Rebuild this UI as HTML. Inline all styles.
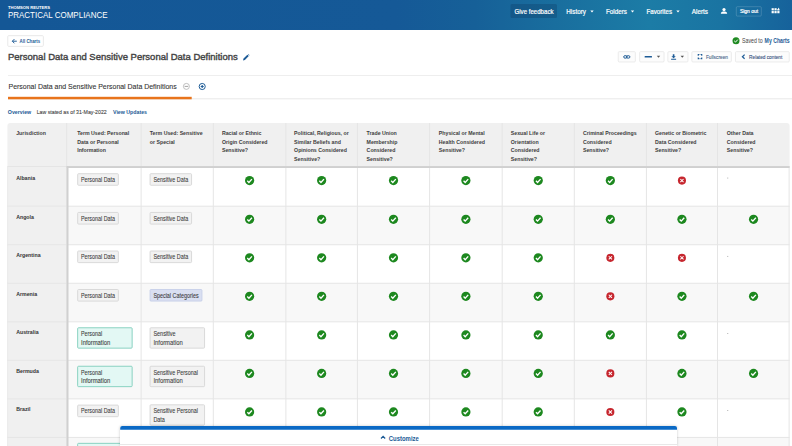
<!DOCTYPE html>
<html><head><meta charset="utf-8"><title>Practical Compliance</title>
<style>
html,body{margin:0;padding:0;background:#fff;}
body{width:792px;height:446px;position:relative;overflow:hidden;font-family:"Liberation Sans", sans-serif;}
.b{position:absolute;display:block;overflow:visible;}
.t{position:absolute;display:inline-block;white-space:nowrap;line-height:10px;transform-origin:0 50%;font-family:"Liberation Sans", sans-serif;}
</style></head><body>
<div class="b" style="left:0.00px;top:0.00px;width:792.00px;height:30.00px;background:linear-gradient(90deg,#145796 0%,#155997 50%,#166098 60%,#196e9e 70%,#1c7ca6 82%,#1a74a2 91%,#16629b 100%);"></div>
<span class="t" id="t0" style="left:7px;top:3px;font-size:3.7px;font-weight:700;color:#fff;transform:translate(0.90px,0.40px) scaleX(1.1227) rotate(.02deg);">THOMSON REUTERS</span>
<span class="t" id="t1" style="left:7px;top:9px;font-size:8.5px;font-weight:400;color:#fff;transform:translate(0.90px,0.90px) scaleX(0.9408) rotate(.02deg);">PRACTICAL COMPLIANCE</span>
<svg class="b" style="left:509px;top:3px" width="49" height="16"><path d="M3.00 1.00H46.50A1.5 1.5 0 0 1 48.00 2.50V13.50A1.5 1.5 0 0 1 46.50 15.00H3.00A1.5 1.5 0 0 1 1.50 13.50V2.50A1.5 1.5 0 0 1 3.00 1.00Z" fill="rgba(10,50,90,.28)"/></svg>
<span class="t" id="t2" style="left:514px;top:6px;font-size:7.3px;font-weight:400;color:#fff;transform:translate(0.50px,0.70px) scaleX(0.8359) rotate(.02deg);-webkit-text-stroke:.2px #fff;">Give feedback</span>
<span class="t" id="t3" style="left:566px;top:6px;font-size:7.3px;font-weight:400;color:#fff;transform:translate(0.30px,0.70px) scaleX(0.8633) rotate(.02deg);-webkit-text-stroke:.2px #fff;">History</span>
<span class="t" id="t4" style="left:606px;top:6px;font-size:7.3px;font-weight:400;color:#fff;transform:translate(0.00px,0.70px) scaleX(0.8585) rotate(.02deg);-webkit-text-stroke:.2px #fff;">Folders</span>
<span class="t" id="t5" style="left:646px;top:6px;font-size:7.3px;font-weight:400;color:#fff;transform:translate(0.50px,0.70px) scaleX(0.8496) rotate(.02deg);-webkit-text-stroke:.2px #fff;">Favorites</span>
<span class="t" id="t6" style="left:691px;top:6px;font-size:7.3px;font-weight:400;color:#fff;transform:translate(0.80px,0.70px) scaleX(0.8683) rotate(.02deg);-webkit-text-stroke:.2px #fff;">Alerts</span>
<svg class="b" style="left:590px;top:10px" width="5" height="4"><g transform="translate(0.30 0.60)"><path d="M0 0H3.4L1.7 2Z" fill="#fff"/></g></svg>
<svg class="b" style="left:630px;top:10px" width="6" height="4"><g transform="translate(0.80 0.60)"><path d="M0 0H3.4L1.7 2Z" fill="#fff"/></g></svg>
<svg class="b" style="left:676px;top:10px" width="5" height="4"><g transform="translate(0.30 0.60)"><path d="M0 0H3.4L1.7 2Z" fill="#fff"/></g></svg>
<svg class="b" style="left:720px;top:8px" width="9" height="7"><g transform="translate(0.90 0.00)"><circle cx="3.1" cy="1.6" r="1.6" fill="#fff"/><path d="M0 5.8V5.2C0 3.9 1.4 3.4 3.1 3.4S6.2 3.9 6.2 5.2V5.8Z" fill="#fff"/></g></svg>
<svg class="b" style="left:734px;top:5px" width="29" height="13"><path d="M3.30 1.70H26.30A1 1 0 0 1 27.30 2.70V10.10A1 1 0 0 1 26.30 11.10H3.30A1 1 0 0 1 2.30 10.10V2.70A1 1 0 0 1 3.30 1.70Z" fill="none" stroke="rgba(255,255,255,.2)" stroke-width="0.8"/></svg>
<span class="t" id="t7" style="left:739px;top:5px;font-size:5.0px;font-weight:400;color:#fff;transform:translate(0.90px,0.90px) scaleX(0.9913) rotate(.02deg);-webkit-text-stroke:.2px #fff;">Sign out</span>
<svg class="b" style="left:771px;top:7px" width="10" height="8"><g transform="translate(0.60 0.30)"><g fill="#fff"><rect x="0" y="0.9" width="2.2" height="2.2"/><rect x="2.85" y="0.9" width="2.2" height="2.2"/><rect x="0" y="3.75" width="2.2" height="2.2"/><rect x="2.85" y="3.75" width="2.2" height="2.2"/><rect x="5.7" y="3.75" width="2.2" height="2.2"/><path d="M5.7 3.1V1.7H6.4V0.2L7.9 1.7V3.1Z"/></g></g></svg>
<svg class="b" style="left:6px;top:34px" width="39" height="14"><path d="M2.75 1.65H36.35A1 1 0 0 1 37.35 2.65V11.35A1 1 0 0 1 36.35 12.35H2.75A1 1 0 0 1 1.75 11.35V2.65A1 1 0 0 1 2.75 1.65Z" fill="#fff" stroke="#e6e6e6" stroke-width="0.9"/></svg>
<svg class="b" style="left:11px;top:38px" width="7" height="7"><g transform="translate(0.60 0.90)"><path d="M5.2 2.3H0.8M2.8 0.2L0.7 2.3L2.8 4.4" stroke="#1d5b96" stroke-width="0.95" fill="none"/></g></svg>
<span class="t" id="t8" style="left:19px;top:36px;font-size:5.6px;font-weight:700;color:#1d5b96;transform:translate(0.60px,0.30px) scaleX(0.7797) rotate(.02deg);">All Charts</span>
<span class="t" id="t9" style="left:8px;top:51px;font-size:9.8px;font-weight:400;color:#444;transform:translate(0.00px,0.85px) scaleX(0.9701) rotate(.02deg);-webkit-text-stroke:.4px #444;">Personal Data and Sensitive Personal Data Definitions</span>
<svg class="b" style="left:243px;top:54px" width="8" height="8"><g transform="translate(0.00 0.00)"><path d="M0 6.5L0.5 4.6L4.4 0.7L5.8 2.1L1.9 6Z M4.9 0.2L5.3 -0.1L6.6 1.2L6.3 1.6Z" fill="#1d5b96"/></g></svg>
<svg class="b" style="left:732px;top:37px" width="9" height="9"><g transform="translate(0.50 0.20)"><circle cx="3.5" cy="3.5" r="3.5" fill="#1f8a22"/><path d="M1.7 3.6L3 4.9L5.3 2.4" stroke="#fff" stroke-width="1" fill="none"/></g></svg>
<span class="t" id="t10" style="left:742px;top:35px;font-size:6.6px;font-weight:400;color:#444;transform:translate(0.00px,0.70px) scaleX(0.7952) rotate(.02deg);">Saved to</span>
<span class="t" id="t11" style="left:764px;top:35px;font-size:6.6px;font-weight:700;color:#1d5b96;transform:translate(0.60px,0.70px) scaleX(0.7808) rotate(.02deg);">My Charts</span>
<svg class="b" style="left:616px;top:50px" width="21" height="14"><path d="M3.25 1.65H18.35A1 1 0 0 1 19.35 2.65V10.95A1 1 0 0 1 18.35 11.95H3.25A1 1 0 0 1 2.25 10.95V2.65A1 1 0 0 1 3.25 1.65Z" fill="#fcfcfc" stroke="#e9e9e9" stroke-width="0.9"/></svg>
<svg class="b" style="left:638px;top:50px" width="28" height="14"><path d="M2.65 1.65H25.05A1 1 0 0 1 26.05 2.65V10.95A1 1 0 0 1 25.05 11.95H2.65A1 1 0 0 1 1.65 10.95V2.65A1 1 0 0 1 2.65 1.65Z" fill="#fcfcfc" stroke="#e9e9e9" stroke-width="0.9"/></svg>
<svg class="b" style="left:666px;top:50px" width="24" height="14"><path d="M2.85 1.65H20.95A1 1 0 0 1 21.95 2.65V10.95A1 1 0 0 1 20.95 11.95H2.85A1 1 0 0 1 1.85 10.95V2.65A1 1 0 0 1 2.85 1.65Z" fill="#fcfcfc" stroke="#e9e9e9" stroke-width="0.9"/></svg>
<svg class="b" style="left:690px;top:50px" width="43" height="14"><path d="M2.85 1.65H40.35A1 1 0 0 1 41.35 2.65V10.95A1 1 0 0 1 40.35 11.95H2.85A1 1 0 0 1 1.85 10.95V2.65A1 1 0 0 1 2.85 1.65Z" fill="#fcfcfc" stroke="#e9e9e9" stroke-width="0.9"/></svg>
<svg class="b" style="left:734px;top:50px" width="57" height="14"><path d="M2.45 1.65H54.25A1 1 0 0 1 55.25 2.65V10.95A1 1 0 0 1 54.25 11.95H2.45A1 1 0 0 1 1.45 10.95V2.65A1 1 0 0 1 2.45 1.65Z" fill="#fcfcfc" stroke="#e9e9e9" stroke-width="0.9"/></svg>
<svg class="b" style="left:623px;top:54px" width="9" height="6"><g transform="translate(0.00 0.80)"><g fill="none" stroke="#1d5b96" stroke-width="1"><rect x="0.7" y="0.9" width="3.4" height="2.4" rx="1.2"/><rect x="3.5" y="0.9" width="3.4" height="2.4" rx="1.2"/></g></g></svg>
<svg class="b" style="left:643px;top:54px" width="10" height="5"><path d="M2.10 1.90H8.50A0.5 0.5 0 0 1 9.00 2.40V3.10A0.5 0.5 0 0 1 8.50 3.60H2.10A0.5 0.5 0 0 1 1.60 3.10V2.40A0.5 0.5 0 0 1 2.10 1.90Z" fill="#1d5b96"/></svg>
<svg class="b" style="left:656px;top:55px" width="6" height="4"><g transform="translate(0.80 0.80)"><path d="M0 0H3.4L1.7 2Z" fill="#555"/></g></svg>
<svg class="b" style="left:670px;top:54px" width="8" height="7"><g transform="translate(0.80 0.20)"><path d="M2 0H3.6V2H5L2.8 4L0.6 2H2Z M0.3 4.5H5.3V5.5H0.3Z" fill="#1d5b96"/></g></svg>
<svg class="b" style="left:680px;top:55px" width="6" height="4"><g transform="translate(0.60 0.80)"><path d="M0 0H3.4L1.7 2Z" fill="#555"/></g></svg>
<svg class="b" style="left:697px;top:54px" width="7" height="7"><g transform="translate(0.70 0.00)"><path d="M0.55 1.8V0.55H1.7M2.9 0.55H4.05V1.8M4.05 3.4V4.65H2.9M1.7 4.65H0.55V3.4" stroke="#1d5b96" stroke-width="1.1" fill="none"/></g></svg>
<span class="t" id="t12" style="left:705px;top:51px;font-size:5.3px;font-weight:400;color:#48648a;transform:translate(0.90px,0.70px) scaleX(0.9043) rotate(.02deg);-webkit-text-stroke:.1px #48648a;">Fullscreen</span>
<svg class="b" style="left:741px;top:54px" width="6" height="7"><g transform="translate(0.70 0.20)"><path d="M2.9 0.4L0.7 2.5L2.9 4.6" stroke="#1d5b96" stroke-width="1.2" fill="none"/></g></svg>
<span class="t" id="t13" style="left:749px;top:51px;font-size:5.3px;font-weight:400;color:#38507e;transform:translate(0.10px,0.50px) scaleX(0.8947) rotate(.02deg);-webkit-text-stroke:.1px #38507e;">Related content</span>
<svg class="b" style="left:7px;top:74px" width="786" height="3"><rect x="1.00" y="1.00" width="784.00" height="1.00" fill="#eeeeee"/></svg>
<svg class="b" style="left:7px;top:97px" width="786" height="4"><rect x="1.00" y="1.30" width="784.00" height="1.00" fill="#e8e8e8"/></svg>
<svg class="b" style="left:7px;top:95px" width="186" height="6"><rect x="1.00" y="1.80" width="183.70" height="2.50" fill="#e8741c"/></svg>
<span class="t" id="t14" style="left:8px;top:82px;font-size:7.8px;font-weight:400;color:#333;transform:translate(0.50px,0.20px) scaleX(0.8922) rotate(.02deg);-webkit-text-stroke:.1px #333;">Personal Data and Sensitive Personal Data Definitions</span>
<svg class="b" style="left:183px;top:83px" width="8" height="8"><g transform="translate(0.00 0.00)"><circle cx="3.4" cy="3.4" r="3" fill="none" stroke="#a6a6a6" stroke-width=".7"/><path d="M1.6 3.4H5.2" stroke="#8c8c8c" stroke-width=".8"/></g></svg>
<svg class="b" style="left:198px;top:82px" width="9" height="10"><g transform="translate(0.60 0.90)"><circle cx="3.6" cy="3.6" r="3.05" fill="none" stroke="#1d5b96" stroke-width="1"/><path d="M2.1 3.6H5.1M3.6 2.1V5.1" stroke="#1d5b96" stroke-width="1.15"/></g></svg>
<span class="t" id="t15" style="left:7px;top:106px;font-size:5.8px;font-weight:700;color:#1d5b96;transform:translate(0.80px,0.80px) scaleX(0.9076) rotate(.02deg);">Overview</span>
<span class="t" id="t16" style="left:36px;top:106px;font-size:5.8px;font-weight:400;color:#444;transform:translate(0.70px,0.80px) scaleX(0.8976) rotate(.02deg);-webkit-text-stroke:.1px #444;">Law stated as of 31-May-2022</span>
<span class="t" id="t17" style="left:113px;top:106px;font-size:5.8px;font-weight:700;color:#1d5b96;transform:translate(0.00px,0.80px) scaleX(0.9044) rotate(.02deg);">View Updates</span>
<svg class="b" style="left:6px;top:122px" width="785" height="46"><path d="M4.40 1.00H780.60A3 3 0 0 1 783.60 4.00V44.50A0 0 0 0 1 783.60 44.50H1.40A0 0 0 0 1 1.40 44.50V4.00A3 3 0 0 1 4.40 1.00Z" fill="#f0f0f0"/></svg>
<svg class="b" style="left:65px;top:165px" width="726" height="43"><rect x="1.70" y="1.50" width="722.90" height="39.70" fill="#fff"/></svg>
<svg class="b" style="left:6px;top:165px" width="62" height="43"><rect x="1.40" y="1.50" width="59.30" height="39.70" fill="#f0f0f0"/></svg>
<svg class="b" style="left:65px;top:205px" width="726" height="41"><rect x="1.70" y="1.20" width="722.90" height="38.55" fill="#f8f8f8"/></svg>
<svg class="b" style="left:6px;top:205px" width="62" height="41"><rect x="1.40" y="1.20" width="59.30" height="38.55" fill="#f0f0f0"/></svg>
<svg class="b" style="left:65px;top:243px" width="726" height="42"><rect x="1.70" y="1.75" width="722.90" height="38.50" fill="#fff"/></svg>
<svg class="b" style="left:6px;top:243px" width="62" height="42"><rect x="1.40" y="1.75" width="59.30" height="38.50" fill="#f0f0f0"/></svg>
<svg class="b" style="left:65px;top:282px" width="726" height="41"><rect x="1.70" y="1.25" width="722.90" height="38.55" fill="#f8f8f8"/></svg>
<svg class="b" style="left:6px;top:282px" width="62" height="41"><rect x="1.40" y="1.25" width="59.30" height="38.55" fill="#f0f0f0"/></svg>
<svg class="b" style="left:65px;top:320px" width="726" height="42"><rect x="1.70" y="1.80" width="722.90" height="38.50" fill="#fff"/></svg>
<svg class="b" style="left:6px;top:320px" width="62" height="42"><rect x="1.40" y="1.80" width="59.30" height="38.50" fill="#f0f0f0"/></svg>
<svg class="b" style="left:65px;top:359px" width="726" height="41"><rect x="1.70" y="1.30" width="722.90" height="38.55" fill="#f8f8f8"/></svg>
<svg class="b" style="left:6px;top:359px" width="62" height="41"><rect x="1.40" y="1.30" width="59.30" height="38.55" fill="#f0f0f0"/></svg>
<svg class="b" style="left:65px;top:397px" width="726" height="42"><rect x="1.70" y="1.85" width="722.90" height="38.55" fill="#fff"/></svg>
<svg class="b" style="left:6px;top:397px" width="62" height="42"><rect x="1.40" y="1.85" width="59.30" height="38.55" fill="#f0f0f0"/></svg>
<svg class="b" style="left:65px;top:436px" width="726" height="12"><rect x="1.70" y="1.40" width="722.90" height="9.60" fill="#f8f8f8"/></svg>
<svg class="b" style="left:6px;top:436px" width="62" height="12"><rect x="1.40" y="1.40" width="59.30" height="9.60" fill="#f0f0f0"/></svg>
<svg class="b" style="left:6px;top:165px" width="785" height="3"><rect x="1.40" y="1.00" width="782.20" height="1.00" fill="#e5e5e5"/></svg>
<svg class="b" style="left:6px;top:204px" width="785" height="4"><rect x="1.40" y="1.70" width="782.20" height="1.00" fill="#e5e5e5"/></svg>
<svg class="b" style="left:6px;top:243px" width="785" height="4"><rect x="1.40" y="1.25" width="782.20" height="1.00" fill="#e5e5e5"/></svg>
<svg class="b" style="left:6px;top:281px" width="785" height="4"><rect x="1.40" y="1.75" width="782.20" height="1.00" fill="#e5e5e5"/></svg>
<svg class="b" style="left:6px;top:320px" width="785" height="4"><rect x="1.40" y="1.30" width="782.20" height="1.00" fill="#e5e5e5"/></svg>
<svg class="b" style="left:6px;top:358px" width="785" height="4"><rect x="1.40" y="1.80" width="782.20" height="1.00" fill="#e5e5e5"/></svg>
<svg class="b" style="left:6px;top:397px" width="785" height="4"><rect x="1.40" y="1.35" width="782.20" height="1.00" fill="#e5e5e5"/></svg>
<svg class="b" style="left:6px;top:435px" width="785" height="4"><rect x="1.40" y="1.90" width="782.20" height="1.00" fill="#e5e5e5"/></svg>
<svg class="b" style="left:65px;top:122px" width="4" height="326"><rect x="1.20" y="1.00" width="1.00" height="324.00" fill="#e5e5e5"/></svg>
<svg class="b" style="left:139px;top:122px" width="4" height="326"><rect x="1.60" y="1.00" width="1.00" height="324.00" fill="#e5e5e5"/></svg>
<svg class="b" style="left:211px;top:122px" width="4" height="326"><rect x="1.80" y="1.00" width="1.00" height="324.00" fill="#e5e5e5"/></svg>
<svg class="b" style="left:284px;top:122px" width="4" height="326"><rect x="1.40" y="1.00" width="1.00" height="324.00" fill="#e5e5e5"/></svg>
<svg class="b" style="left:355px;top:122px" width="4" height="326"><rect x="1.90" y="1.00" width="1.00" height="324.00" fill="#e5e5e5"/></svg>
<svg class="b" style="left:428px;top:122px" width="4" height="326"><rect x="1.10" y="1.00" width="1.00" height="324.00" fill="#e5e5e5"/></svg>
<svg class="b" style="left:500px;top:122px" width="4" height="326"><rect x="1.70" y="1.00" width="1.00" height="324.00" fill="#e5e5e5"/></svg>
<svg class="b" style="left:572px;top:122px" width="4" height="326"><rect x="1.80" y="1.00" width="1.00" height="324.00" fill="#e5e5e5"/></svg>
<svg class="b" style="left:644px;top:122px" width="4" height="326"><rect x="1.90" y="1.00" width="1.00" height="324.00" fill="#e5e5e5"/></svg>
<svg class="b" style="left:716px;top:122px" width="3" height="326"><rect x="1.00" y="1.00" width="1.00" height="324.00" fill="#e5e5e5"/></svg>
<svg class="b" style="left:787px;top:165px" width="4" height="283"><rect x="1.60" y="1.50" width="1.00" height="280.50" fill="#e5e5e5"/></svg>
<svg class="b" style="left:6px;top:165px" width="4" height="283"><rect x="1.40" y="1.50" width="0.70" height="280.50" fill="#e4e4e4"/></svg>
<svg class="b" style="left:65px;top:165px" width="726" height="4"><rect x="1.70" y="1.10" width="722.90" height="1.90" fill="#d0d0d0"/></svg>
<svg class="b" style="left:65px;top:165px" width="5" height="283"><rect x="1.60" y="1.10" width="1.90" height="280.90" fill="#d0d0d0"/></svg>
<span class="t" id="t18" style="left:16px;top:128px;font-size:6.2px;font-weight:700;color:#3d3d3d;transform:translate(0.20px,0.40px) scaleX(0.8495) rotate(.02deg);">Jurisdiction</span>
<span class="t" id="t19" style="left:77px;top:128px;font-size:6.2px;font-weight:700;color:#3d3d3d;transform:translate(0.20px,0.40px) scaleX(0.8464) rotate(.02deg);">Term Used: Personal</span>
<span class="t" id="t20" style="left:77px;top:136px;font-size:6.2px;font-weight:700;color:#3d3d3d;transform:translate(0.20px,0.80px) scaleX(0.8450) rotate(.02deg);">Data or Personal</span>
<span class="t" id="t21" style="left:77px;top:145px;font-size:6.2px;font-weight:700;color:#3d3d3d;transform:translate(0.20px,0.20px) scaleX(0.8450) rotate(.02deg);">Information</span>
<span class="t" id="t22" style="left:149px;top:128px;font-size:6.2px;font-weight:700;color:#3d3d3d;transform:translate(0.80px,0.40px) scaleX(0.8450) rotate(.02deg);">Term Used: Sensitive</span>
<span class="t" id="t23" style="left:149px;top:136px;font-size:6.2px;font-weight:700;color:#3d3d3d;transform:translate(0.80px,0.80px) scaleX(0.8450) rotate(.02deg);">or Special</span>
<span class="t" id="t24" style="left:221px;top:128px;font-size:6.2px;font-weight:700;color:#3d3d3d;transform:translate(0.90px,0.40px) scaleX(0.8450) rotate(.02deg);">Racial or Ethnic</span>
<span class="t" id="t25" style="left:221px;top:136px;font-size:6.2px;font-weight:700;color:#3d3d3d;transform:translate(0.90px,0.80px) scaleX(0.8450) rotate(.02deg);">Origin Considered</span>
<span class="t" id="t26" style="left:221px;top:145px;font-size:6.2px;font-weight:700;color:#3d3d3d;transform:translate(0.90px,0.20px) scaleX(0.8450) rotate(.02deg);">Sensitive?</span>
<span class="t" id="t27" style="left:294px;top:128px;font-size:6.2px;font-weight:700;color:#3d3d3d;transform:translate(0.10px,0.40px) scaleX(0.8450) rotate(.02deg);">Political, Religious, or</span>
<span class="t" id="t28" style="left:294px;top:136px;font-size:6.2px;font-weight:700;color:#3d3d3d;transform:translate(0.10px,0.80px) scaleX(0.8450) rotate(.02deg);">Similar Beliefs and</span>
<span class="t" id="t29" style="left:294px;top:145px;font-size:6.2px;font-weight:700;color:#3d3d3d;transform:translate(0.10px,0.20px) scaleX(0.8450) rotate(.02deg);">Opinions Considered</span>
<span class="t" id="t30" style="left:294px;top:153px;font-size:6.2px;font-weight:700;color:#3d3d3d;transform:translate(0.10px,0.60px) scaleX(0.8450) rotate(.02deg);">Sensitive?</span>
<span class="t" id="t31" style="left:366px;top:128px;font-size:6.2px;font-weight:700;color:#3d3d3d;transform:translate(0.60px,0.40px) scaleX(0.8450) rotate(.02deg);">Trade Union</span>
<span class="t" id="t32" style="left:366px;top:136px;font-size:6.2px;font-weight:700;color:#3d3d3d;transform:translate(0.60px,0.80px) scaleX(0.8450) rotate(.02deg);">Membership</span>
<span class="t" id="t33" style="left:366px;top:145px;font-size:6.2px;font-weight:700;color:#3d3d3d;transform:translate(0.60px,0.20px) scaleX(0.8450) rotate(.02deg);">Considered</span>
<span class="t" id="t34" style="left:366px;top:153px;font-size:6.2px;font-weight:700;color:#3d3d3d;transform:translate(0.60px,0.60px) scaleX(0.8450) rotate(.02deg);">Sensitive?</span>
<span class="t" id="t35" style="left:438px;top:128px;font-size:6.2px;font-weight:700;color:#3d3d3d;transform:translate(0.80px,0.40px) scaleX(0.8450) rotate(.02deg);">Physical or Mental</span>
<span class="t" id="t36" style="left:438px;top:136px;font-size:6.2px;font-weight:700;color:#3d3d3d;transform:translate(0.80px,0.80px) scaleX(0.8450) rotate(.02deg);">Health Considered</span>
<span class="t" id="t37" style="left:438px;top:145px;font-size:6.2px;font-weight:700;color:#3d3d3d;transform:translate(0.80px,0.20px) scaleX(0.8450) rotate(.02deg);">Sensitive?</span>
<span class="t" id="t38" style="left:510px;top:128px;font-size:6.2px;font-weight:700;color:#3d3d3d;transform:translate(0.80px,0.40px) scaleX(0.8450) rotate(.02deg);">Sexual Life or</span>
<span class="t" id="t39" style="left:510px;top:136px;font-size:6.2px;font-weight:700;color:#3d3d3d;transform:translate(0.80px,0.80px) scaleX(0.8450) rotate(.02deg);">Orientation</span>
<span class="t" id="t40" style="left:510px;top:145px;font-size:6.2px;font-weight:700;color:#3d3d3d;transform:translate(0.80px,0.20px) scaleX(0.8450) rotate(.02deg);">Considered</span>
<span class="t" id="t41" style="left:510px;top:153px;font-size:6.2px;font-weight:700;color:#3d3d3d;transform:translate(0.80px,0.60px) scaleX(0.8450) rotate(.02deg);">Sensitive?</span>
<span class="t" id="t42" style="left:582px;top:128px;font-size:6.2px;font-weight:700;color:#3d3d3d;transform:translate(0.90px,0.40px) scaleX(0.8450) rotate(.02deg);">Criminal Proceedings</span>
<span class="t" id="t43" style="left:582px;top:136px;font-size:6.2px;font-weight:700;color:#3d3d3d;transform:translate(0.90px,0.80px) scaleX(0.8450) rotate(.02deg);">Considered</span>
<span class="t" id="t44" style="left:582px;top:145px;font-size:6.2px;font-weight:700;color:#3d3d3d;transform:translate(0.90px,0.20px) scaleX(0.8450) rotate(.02deg);">Sensitive?</span>
<span class="t" id="t45" style="left:655px;top:128px;font-size:6.2px;font-weight:700;color:#3d3d3d;transform:translate(0.00px,0.40px) scaleX(0.8450) rotate(.02deg);">Genetic or Biometric</span>
<span class="t" id="t46" style="left:655px;top:136px;font-size:6.2px;font-weight:700;color:#3d3d3d;transform:translate(0.00px,0.80px) scaleX(0.8450) rotate(.02deg);">Data Considered</span>
<span class="t" id="t47" style="left:655px;top:145px;font-size:6.2px;font-weight:700;color:#3d3d3d;transform:translate(0.00px,0.20px) scaleX(0.8450) rotate(.02deg);">Sensitive?</span>
<span class="t" id="t48" style="left:726px;top:128px;font-size:6.2px;font-weight:700;color:#3d3d3d;transform:translate(0.80px,0.40px) scaleX(0.8450) rotate(.02deg);">Other Data</span>
<span class="t" id="t49" style="left:726px;top:136px;font-size:6.2px;font-weight:700;color:#3d3d3d;transform:translate(0.80px,0.80px) scaleX(0.8450) rotate(.02deg);">Considered</span>
<span class="t" id="t50" style="left:726px;top:145px;font-size:6.2px;font-weight:700;color:#3d3d3d;transform:translate(0.80px,0.20px) scaleX(0.8450) rotate(.02deg);">Sensitive?</span>
<span class="t" id="t51" style="left:16px;top:172px;font-size:6.2px;font-weight:700;color:#333;transform:translate(0.20px,0.80px) scaleX(0.8450) rotate(.02deg);">Albania</span>
<svg class="b" style="left:76px;top:172px" width="44" height="15"><path d="M2.55 1.65H41.45A0.9 0.9 0 0 1 42.35 2.55V12.35A0.9 0.9 0 0 1 41.45 13.25H2.55A0.9 0.9 0 0 1 1.65 12.35V2.55A0.9 0.9 0 0 1 2.55 1.65Z" fill="#f2f2f2" stroke="#d6d6d6" stroke-width="0.9"/></svg><span class="t" id="t52" style="left:81px;top:174px;font-size:6.3px;font-weight:400;color:#383838;transform:translate(0.00px,0.90px) scaleX(0.8520) rotate(.02deg);-webkit-text-stroke:.07px #383838;">Personal Data</span>
<svg class="b" style="left:148px;top:172px" width="45" height="15"><path d="M2.95 1.65H42.65A0.9 0.9 0 0 1 43.55 2.55V12.35A0.9 0.9 0 0 1 42.65 13.25H2.95A0.9 0.9 0 0 1 2.05 12.35V2.55A0.9 0.9 0 0 1 2.95 1.65Z" fill="#f2f2f2" stroke="#d6d6d6" stroke-width="0.9"/></svg><span class="t" id="t53" style="left:153px;top:174px;font-size:6.3px;font-weight:400;color:#383838;transform:translate(0.40px,0.90px) scaleX(0.8569) rotate(.02deg);-webkit-text-stroke:.07px #383838;">Sensitive Data</span>
<svg class="b" style="left:245px;top:176px" width="11" height="11"><g transform="translate(0.00 0.00)"><circle cx="4.6" cy="4.6" r="4.6" fill="#1d881f"/><path d="M2.3 4.8L3.9 6.4L6.9 3.1" stroke="#fff" stroke-width="1.35" fill="none"/></g></svg>
<svg class="b" style="left:317px;top:176px" width="11" height="11"><g transform="translate(0.05 0.00)"><circle cx="4.6" cy="4.6" r="4.6" fill="#1d881f"/><path d="M2.3 4.8L3.9 6.4L6.9 3.1" stroke="#fff" stroke-width="1.35" fill="none"/></g></svg>
<svg class="b" style="left:388px;top:176px" width="12" height="11"><g transform="translate(0.90 0.00)"><circle cx="4.6" cy="4.6" r="4.6" fill="#1d881f"/><path d="M2.3 4.8L3.9 6.4L6.9 3.1" stroke="#fff" stroke-width="1.35" fill="none"/></g></svg>
<svg class="b" style="left:461px;top:176px" width="11" height="11"><g transform="translate(0.30 0.00)"><circle cx="4.6" cy="4.6" r="4.6" fill="#1d881f"/><path d="M2.3 4.8L3.9 6.4L6.9 3.1" stroke="#fff" stroke-width="1.35" fill="none"/></g></svg>
<svg class="b" style="left:533px;top:176px" width="11" height="11"><g transform="translate(0.65 0.00)"><circle cx="4.6" cy="4.6" r="4.6" fill="#1d881f"/><path d="M2.3 4.8L3.9 6.4L6.9 3.1" stroke="#fff" stroke-width="1.35" fill="none"/></g></svg>
<svg class="b" style="left:605px;top:176px" width="11" height="11"><g transform="translate(0.75 0.00)"><circle cx="4.6" cy="4.6" r="4.6" fill="#1d881f"/><path d="M2.3 4.8L3.9 6.4L6.9 3.1" stroke="#fff" stroke-width="1.35" fill="none"/></g></svg>
<svg class="b" style="left:677px;top:176px" width="11" height="10"><g transform="translate(0.85 0.50)"><circle cx="4.1" cy="4.1" r="4.05" fill="#c6262e"/><path d="M2.5 2.5L5.7 5.7M5.7 2.5L2.5 5.7" stroke="#fff" stroke-width="1.05" fill="none"/></g></svg>
<svg class="b" style="left:726px;top:176px" width="4" height="4"><rect x="1.00" y="1.70" width="1.30" height="0.70" fill="#aaa"/></svg>
<span class="t" id="t54" style="left:16px;top:211px;font-size:6.2px;font-weight:700;color:#333;transform:translate(0.20px,0.50px) scaleX(0.8450) rotate(.02deg);">Angola</span>
<svg class="b" style="left:76px;top:211px" width="44" height="15"><path d="M2.55 1.45H41.45A0.9 0.9 0 0 1 42.35 2.35V12.15A0.9 0.9 0 0 1 41.45 13.05H2.55A0.9 0.9 0 0 1 1.65 12.15V2.35A0.9 0.9 0 0 1 2.55 1.45Z" fill="#f2f2f2" stroke="#d6d6d6" stroke-width="0.9"/></svg><span class="t" id="t55" style="left:81px;top:213px;font-size:6.3px;font-weight:400;color:#383838;transform:translate(0.00px,0.70px) scaleX(0.8520) rotate(.02deg);-webkit-text-stroke:.07px #383838;">Personal Data</span>
<svg class="b" style="left:148px;top:211px" width="45" height="15"><path d="M2.95 1.45H42.65A0.9 0.9 0 0 1 43.55 2.35V12.15A0.9 0.9 0 0 1 42.65 13.05H2.95A0.9 0.9 0 0 1 2.05 12.15V2.35A0.9 0.9 0 0 1 2.95 1.45Z" fill="#f2f2f2" stroke="#d6d6d6" stroke-width="0.9"/></svg><span class="t" id="t56" style="left:153px;top:213px;font-size:6.3px;font-weight:400;color:#383838;transform:translate(0.40px,0.70px) scaleX(0.8569) rotate(.02deg);-webkit-text-stroke:.07px #383838;">Sensitive Data</span>
<svg class="b" style="left:245px;top:214px" width="11" height="11"><g transform="translate(0.00 0.70)"><circle cx="4.6" cy="4.6" r="4.6" fill="#1d881f"/><path d="M2.3 4.8L3.9 6.4L6.9 3.1" stroke="#fff" stroke-width="1.35" fill="none"/></g></svg>
<svg class="b" style="left:317px;top:214px" width="11" height="11"><g transform="translate(0.05 0.70)"><circle cx="4.6" cy="4.6" r="4.6" fill="#1d881f"/><path d="M2.3 4.8L3.9 6.4L6.9 3.1" stroke="#fff" stroke-width="1.35" fill="none"/></g></svg>
<svg class="b" style="left:388px;top:214px" width="12" height="11"><g transform="translate(0.90 0.70)"><circle cx="4.6" cy="4.6" r="4.6" fill="#1d881f"/><path d="M2.3 4.8L3.9 6.4L6.9 3.1" stroke="#fff" stroke-width="1.35" fill="none"/></g></svg>
<svg class="b" style="left:461px;top:214px" width="11" height="11"><g transform="translate(0.30 0.70)"><circle cx="4.6" cy="4.6" r="4.6" fill="#1d881f"/><path d="M2.3 4.8L3.9 6.4L6.9 3.1" stroke="#fff" stroke-width="1.35" fill="none"/></g></svg>
<svg class="b" style="left:533px;top:214px" width="11" height="11"><g transform="translate(0.65 0.70)"><circle cx="4.6" cy="4.6" r="4.6" fill="#1d881f"/><path d="M2.3 4.8L3.9 6.4L6.9 3.1" stroke="#fff" stroke-width="1.35" fill="none"/></g></svg>
<svg class="b" style="left:605px;top:214px" width="11" height="11"><g transform="translate(0.75 0.70)"><circle cx="4.6" cy="4.6" r="4.6" fill="#1d881f"/><path d="M2.3 4.8L3.9 6.4L6.9 3.1" stroke="#fff" stroke-width="1.35" fill="none"/></g></svg>
<svg class="b" style="left:677px;top:214px" width="11" height="11"><g transform="translate(0.35 0.70)"><circle cx="4.6" cy="4.6" r="4.6" fill="#1d881f"/><path d="M2.3 4.8L3.9 6.4L6.9 3.1" stroke="#fff" stroke-width="1.35" fill="none"/></g></svg>
<svg class="b" style="left:748px;top:214px" width="12" height="11"><g transform="translate(0.95 0.70)"><circle cx="4.6" cy="4.6" r="4.6" fill="#1d881f"/><path d="M2.3 4.8L3.9 6.4L6.9 3.1" stroke="#fff" stroke-width="1.35" fill="none"/></g></svg>
<span class="t" id="t57" style="left:16px;top:250px;font-size:6.2px;font-weight:700;color:#333;transform:translate(0.20px,0.05px) scaleX(0.8450) rotate(.02deg);">Argentina</span>
<svg class="b" style="left:76px;top:249px" width="44" height="16"><path d="M2.55 2.00H41.45A0.9 0.9 0 0 1 42.35 2.90V12.70A0.9 0.9 0 0 1 41.45 13.60H2.55A0.9 0.9 0 0 1 1.65 12.70V2.90A0.9 0.9 0 0 1 2.55 2.00Z" fill="#f2f2f2" stroke="#d6d6d6" stroke-width="0.9"/></svg><span class="t" id="t58" style="left:81px;top:252px;font-size:6.3px;font-weight:400;color:#383838;transform:translate(0.00px,0.25px) scaleX(0.8520) rotate(.02deg);-webkit-text-stroke:.07px #383838;">Personal Data</span>
<svg class="b" style="left:148px;top:249px" width="45" height="16"><path d="M2.95 2.00H42.65A0.9 0.9 0 0 1 43.55 2.90V12.70A0.9 0.9 0 0 1 42.65 13.60H2.95A0.9 0.9 0 0 1 2.05 12.70V2.90A0.9 0.9 0 0 1 2.95 2.00Z" fill="#f2f2f2" stroke="#d6d6d6" stroke-width="0.9"/></svg><span class="t" id="t59" style="left:153px;top:252px;font-size:6.3px;font-weight:400;color:#383838;transform:translate(0.40px,0.25px) scaleX(0.8569) rotate(.02deg);-webkit-text-stroke:.07px #383838;">Sensitive Data</span>
<svg class="b" style="left:245px;top:253px" width="11" height="11"><g transform="translate(0.00 0.25)"><circle cx="4.6" cy="4.6" r="4.6" fill="#1d881f"/><path d="M2.3 4.8L3.9 6.4L6.9 3.1" stroke="#fff" stroke-width="1.35" fill="none"/></g></svg>
<svg class="b" style="left:317px;top:253px" width="11" height="11"><g transform="translate(0.05 0.25)"><circle cx="4.6" cy="4.6" r="4.6" fill="#1d881f"/><path d="M2.3 4.8L3.9 6.4L6.9 3.1" stroke="#fff" stroke-width="1.35" fill="none"/></g></svg>
<svg class="b" style="left:388px;top:253px" width="12" height="11"><g transform="translate(0.90 0.25)"><circle cx="4.6" cy="4.6" r="4.6" fill="#1d881f"/><path d="M2.3 4.8L3.9 6.4L6.9 3.1" stroke="#fff" stroke-width="1.35" fill="none"/></g></svg>
<svg class="b" style="left:461px;top:253px" width="11" height="11"><g transform="translate(0.30 0.25)"><circle cx="4.6" cy="4.6" r="4.6" fill="#1d881f"/><path d="M2.3 4.8L3.9 6.4L6.9 3.1" stroke="#fff" stroke-width="1.35" fill="none"/></g></svg>
<svg class="b" style="left:533px;top:253px" width="11" height="11"><g transform="translate(0.65 0.25)"><circle cx="4.6" cy="4.6" r="4.6" fill="#1d881f"/><path d="M2.3 4.8L3.9 6.4L6.9 3.1" stroke="#fff" stroke-width="1.35" fill="none"/></g></svg>
<svg class="b" style="left:606px;top:253px" width="10" height="10"><g transform="translate(0.25 0.75)"><circle cx="4.1" cy="4.1" r="4.05" fill="#c6262e"/><path d="M2.5 2.5L5.7 5.7M5.7 2.5L2.5 5.7" stroke="#fff" stroke-width="1.05" fill="none"/></g></svg>
<svg class="b" style="left:677px;top:253px" width="11" height="10"><g transform="translate(0.85 0.75)"><circle cx="4.1" cy="4.1" r="4.05" fill="#c6262e"/><path d="M2.5 2.5L5.7 5.7M5.7 2.5L2.5 5.7" stroke="#fff" stroke-width="1.05" fill="none"/></g></svg>
<svg class="b" style="left:726px;top:254px" width="4" height="4"><rect x="1.00" y="1.95" width="1.30" height="0.70" fill="#aaa"/></svg>
<span class="t" id="t60" style="left:16px;top:288px;font-size:6.2px;font-weight:700;color:#333;transform:translate(0.20px,0.55px) scaleX(0.8450) rotate(.02deg);">Armenia</span>
<svg class="b" style="left:76px;top:288px" width="44" height="15"><path d="M2.55 1.50H41.45A0.9 0.9 0 0 1 42.35 2.40V12.20A0.9 0.9 0 0 1 41.45 13.10H2.55A0.9 0.9 0 0 1 1.65 12.20V2.40A0.9 0.9 0 0 1 2.55 1.50Z" fill="#f2f2f2" stroke="#d6d6d6" stroke-width="0.9"/></svg><span class="t" id="t61" style="left:81px;top:290px;font-size:6.3px;font-weight:400;color:#383838;transform:translate(0.00px,0.75px) scaleX(0.8520) rotate(.02deg);-webkit-text-stroke:.07px #383838;">Personal Data</span>
<svg class="b" style="left:148px;top:288px" width="56" height="15"><path d="M2.95 1.50H53.05A0.9 0.9 0 0 1 53.95 2.40V12.20A0.9 0.9 0 0 1 53.05 13.10H2.95A0.9 0.9 0 0 1 2.05 12.20V2.40A0.9 0.9 0 0 1 2.95 1.50Z" fill="#d9dff1" stroke="#c6cfe9" stroke-width="0.9"/></svg><span class="t" id="t62" style="left:153px;top:290px;font-size:6.3px;font-weight:400;color:#383838;transform:translate(0.40px,0.75px) scaleX(0.8551) rotate(.02deg);-webkit-text-stroke:.07px #383838;">Special Categories</span>
<svg class="b" style="left:245px;top:291px" width="11" height="11"><g transform="translate(0.00 0.75)"><circle cx="4.6" cy="4.6" r="4.6" fill="#1d881f"/><path d="M2.3 4.8L3.9 6.4L6.9 3.1" stroke="#fff" stroke-width="1.35" fill="none"/></g></svg>
<svg class="b" style="left:317px;top:291px" width="11" height="11"><g transform="translate(0.05 0.75)"><circle cx="4.6" cy="4.6" r="4.6" fill="#1d881f"/><path d="M2.3 4.8L3.9 6.4L6.9 3.1" stroke="#fff" stroke-width="1.35" fill="none"/></g></svg>
<svg class="b" style="left:388px;top:291px" width="12" height="11"><g transform="translate(0.90 0.75)"><circle cx="4.6" cy="4.6" r="4.6" fill="#1d881f"/><path d="M2.3 4.8L3.9 6.4L6.9 3.1" stroke="#fff" stroke-width="1.35" fill="none"/></g></svg>
<svg class="b" style="left:461px;top:291px" width="11" height="11"><g transform="translate(0.30 0.75)"><circle cx="4.6" cy="4.6" r="4.6" fill="#1d881f"/><path d="M2.3 4.8L3.9 6.4L6.9 3.1" stroke="#fff" stroke-width="1.35" fill="none"/></g></svg>
<svg class="b" style="left:533px;top:291px" width="11" height="11"><g transform="translate(0.65 0.75)"><circle cx="4.6" cy="4.6" r="4.6" fill="#1d881f"/><path d="M2.3 4.8L3.9 6.4L6.9 3.1" stroke="#fff" stroke-width="1.35" fill="none"/></g></svg>
<svg class="b" style="left:606px;top:292px" width="10" height="10"><g transform="translate(0.25 0.25)"><circle cx="4.1" cy="4.1" r="4.05" fill="#c6262e"/><path d="M2.5 2.5L5.7 5.7M5.7 2.5L2.5 5.7" stroke="#fff" stroke-width="1.05" fill="none"/></g></svg>
<svg class="b" style="left:677px;top:291px" width="11" height="11"><g transform="translate(0.35 0.75)"><circle cx="4.6" cy="4.6" r="4.6" fill="#1d881f"/><path d="M2.3 4.8L3.9 6.4L6.9 3.1" stroke="#fff" stroke-width="1.35" fill="none"/></g></svg>
<svg class="b" style="left:748px;top:291px" width="12" height="11"><g transform="translate(0.95 0.75)"><circle cx="4.6" cy="4.6" r="4.6" fill="#1d881f"/><path d="M2.3 4.8L3.9 6.4L6.9 3.1" stroke="#fff" stroke-width="1.35" fill="none"/></g></svg>
<span class="t" id="t63" style="left:16px;top:327px;font-size:6.2px;font-weight:700;color:#333;transform:translate(0.20px,0.10px) scaleX(0.8450) rotate(.02deg);">Australia</span>
<svg class="b" style="left:76px;top:326px" width="58" height="24"><path d="M2.55 1.75H55.25A0.9 0.9 0 0 1 56.15 2.65V21.25A0.9 0.9 0 0 1 55.25 22.15H2.55A0.9 0.9 0 0 1 1.65 21.25V2.65A0.9 0.9 0 0 1 2.55 1.75Z" fill="#e3f8f4" stroke="#7fcdbb" stroke-width="0.9"/></svg><span class="t" id="t64" style="left:81px;top:329px;font-size:6.3px;font-weight:400;color:#383838;transform:translate(0.00px,0.10px) scaleX(0.8488) rotate(.02deg);-webkit-text-stroke:.07px #383838;">Personal</span><span class="t" id="t65" style="left:81px;top:337px;font-size:6.3px;font-weight:400;color:#383838;transform:translate(0.00px,0.75px) scaleX(0.9302) rotate(.02deg);-webkit-text-stroke:.07px #383838;">Information</span>
<svg class="b" style="left:148px;top:326px" width="58" height="24"><path d="M2.95 1.75H55.65A0.9 0.9 0 0 1 56.55 2.65V21.25A0.9 0.9 0 0 1 55.65 22.15H2.95A0.9 0.9 0 0 1 2.05 21.25V2.65A0.9 0.9 0 0 1 2.95 1.75Z" fill="#f2f2f2" stroke="#d6d6d6" stroke-width="0.9"/></svg><span class="t" id="t66" style="left:153px;top:329px;font-size:6.3px;font-weight:400;color:#383838;transform:translate(0.40px,0.10px) scaleX(0.8685) rotate(.02deg);-webkit-text-stroke:.07px #383838;">Sensitive</span><span class="t" id="t67" style="left:153px;top:337px;font-size:6.3px;font-weight:400;color:#383838;transform:translate(0.40px,0.75px) scaleX(0.9302) rotate(.02deg);-webkit-text-stroke:.07px #383838;">Information</span>
<svg class="b" style="left:245px;top:330px" width="11" height="11"><g transform="translate(0.00 0.30)"><circle cx="4.6" cy="4.6" r="4.6" fill="#1d881f"/><path d="M2.3 4.8L3.9 6.4L6.9 3.1" stroke="#fff" stroke-width="1.35" fill="none"/></g></svg>
<svg class="b" style="left:317px;top:330px" width="11" height="11"><g transform="translate(0.05 0.30)"><circle cx="4.6" cy="4.6" r="4.6" fill="#1d881f"/><path d="M2.3 4.8L3.9 6.4L6.9 3.1" stroke="#fff" stroke-width="1.35" fill="none"/></g></svg>
<svg class="b" style="left:388px;top:330px" width="12" height="11"><g transform="translate(0.90 0.30)"><circle cx="4.6" cy="4.6" r="4.6" fill="#1d881f"/><path d="M2.3 4.8L3.9 6.4L6.9 3.1" stroke="#fff" stroke-width="1.35" fill="none"/></g></svg>
<svg class="b" style="left:461px;top:330px" width="11" height="11"><g transform="translate(0.30 0.30)"><circle cx="4.6" cy="4.6" r="4.6" fill="#1d881f"/><path d="M2.3 4.8L3.9 6.4L6.9 3.1" stroke="#fff" stroke-width="1.35" fill="none"/></g></svg>
<svg class="b" style="left:533px;top:330px" width="11" height="11"><g transform="translate(0.65 0.30)"><circle cx="4.6" cy="4.6" r="4.6" fill="#1d881f"/><path d="M2.3 4.8L3.9 6.4L6.9 3.1" stroke="#fff" stroke-width="1.35" fill="none"/></g></svg>
<svg class="b" style="left:605px;top:330px" width="11" height="11"><g transform="translate(0.75 0.30)"><circle cx="4.6" cy="4.6" r="4.6" fill="#1d881f"/><path d="M2.3 4.8L3.9 6.4L6.9 3.1" stroke="#fff" stroke-width="1.35" fill="none"/></g></svg>
<svg class="b" style="left:677px;top:330px" width="11" height="11"><g transform="translate(0.35 0.30)"><circle cx="4.6" cy="4.6" r="4.6" fill="#1d881f"/><path d="M2.3 4.8L3.9 6.4L6.9 3.1" stroke="#fff" stroke-width="1.35" fill="none"/></g></svg>
<svg class="b" style="left:726px;top:332px" width="4" height="3"><rect x="1.00" y="1.00" width="1.30" height="0.70" fill="#aaa"/></svg>
<span class="t" id="t68" style="left:16px;top:365px;font-size:6.2px;font-weight:700;color:#333;transform:translate(0.20px,0.60px) scaleX(0.8450) rotate(.02deg);">Bermuda</span>
<svg class="b" style="left:76px;top:364px" width="58" height="25"><path d="M2.55 2.25H55.25A0.9 0.9 0 0 1 56.15 3.15V21.75A0.9 0.9 0 0 1 55.25 22.65H2.55A0.9 0.9 0 0 1 1.65 21.75V3.15A0.9 0.9 0 0 1 2.55 2.25Z" fill="#e3f8f4" stroke="#7fcdbb" stroke-width="0.9"/></svg><span class="t" id="t69" style="left:81px;top:367px;font-size:6.3px;font-weight:400;color:#383838;transform:translate(0.00px,0.60px) scaleX(0.8488) rotate(.02deg);-webkit-text-stroke:.07px #383838;">Personal</span><span class="t" id="t70" style="left:81px;top:376px;font-size:6.3px;font-weight:400;color:#383838;transform:translate(0.00px,0.25px) scaleX(0.9302) rotate(.02deg);-webkit-text-stroke:.07px #383838;">Information</span>
<svg class="b" style="left:148px;top:364px" width="58" height="25"><path d="M2.95 2.25H55.65A0.9 0.9 0 0 1 56.55 3.15V21.75A0.9 0.9 0 0 1 55.65 22.65H2.95A0.9 0.9 0 0 1 2.05 21.75V3.15A0.9 0.9 0 0 1 2.95 2.25Z" fill="#f2f2f2" stroke="#d6d6d6" stroke-width="0.9"/></svg><span class="t" id="t71" style="left:153px;top:367px;font-size:6.3px;font-weight:400;color:#383838;transform:translate(0.40px,0.60px) scaleX(0.8551) rotate(.02deg);-webkit-text-stroke:.07px #383838;">Sensitive Personal</span><span class="t" id="t72" style="left:153px;top:376px;font-size:6.3px;font-weight:400;color:#383838;transform:translate(0.40px,0.25px) scaleX(0.9302) rotate(.02deg);-webkit-text-stroke:.07px #383838;">Information</span>
<svg class="b" style="left:245px;top:368px" width="11" height="12"><g transform="translate(0.00 0.80)"><circle cx="4.6" cy="4.6" r="4.6" fill="#1d881f"/><path d="M2.3 4.8L3.9 6.4L6.9 3.1" stroke="#fff" stroke-width="1.35" fill="none"/></g></svg>
<svg class="b" style="left:317px;top:368px" width="11" height="12"><g transform="translate(0.05 0.80)"><circle cx="4.6" cy="4.6" r="4.6" fill="#1d881f"/><path d="M2.3 4.8L3.9 6.4L6.9 3.1" stroke="#fff" stroke-width="1.35" fill="none"/></g></svg>
<svg class="b" style="left:388px;top:368px" width="12" height="12"><g transform="translate(0.90 0.80)"><circle cx="4.6" cy="4.6" r="4.6" fill="#1d881f"/><path d="M2.3 4.8L3.9 6.4L6.9 3.1" stroke="#fff" stroke-width="1.35" fill="none"/></g></svg>
<svg class="b" style="left:461px;top:368px" width="11" height="12"><g transform="translate(0.30 0.80)"><circle cx="4.6" cy="4.6" r="4.6" fill="#1d881f"/><path d="M2.3 4.8L3.9 6.4L6.9 3.1" stroke="#fff" stroke-width="1.35" fill="none"/></g></svg>
<svg class="b" style="left:533px;top:368px" width="11" height="12"><g transform="translate(0.65 0.80)"><circle cx="4.6" cy="4.6" r="4.6" fill="#1d881f"/><path d="M2.3 4.8L3.9 6.4L6.9 3.1" stroke="#fff" stroke-width="1.35" fill="none"/></g></svg>
<svg class="b" style="left:606px;top:369px" width="10" height="10"><g transform="translate(0.25 0.30)"><circle cx="4.1" cy="4.1" r="4.05" fill="#c6262e"/><path d="M2.5 2.5L5.7 5.7M5.7 2.5L2.5 5.7" stroke="#fff" stroke-width="1.05" fill="none"/></g></svg>
<svg class="b" style="left:677px;top:368px" width="11" height="12"><g transform="translate(0.35 0.80)"><circle cx="4.6" cy="4.6" r="4.6" fill="#1d881f"/><path d="M2.3 4.8L3.9 6.4L6.9 3.1" stroke="#fff" stroke-width="1.35" fill="none"/></g></svg>
<svg class="b" style="left:748px;top:368px" width="12" height="12"><g transform="translate(0.95 0.80)"><circle cx="4.6" cy="4.6" r="4.6" fill="#1d881f"/><path d="M2.3 4.8L3.9 6.4L6.9 3.1" stroke="#fff" stroke-width="1.35" fill="none"/></g></svg>
<span class="t" id="t73" style="left:16px;top:404px;font-size:6.2px;font-weight:700;color:#333;transform:translate(0.20px,0.15px) scaleX(0.8450) rotate(.02deg);">Brazil</span>
<svg class="b" style="left:76px;top:403px" width="44" height="16"><path d="M2.55 2.10H41.45A0.9 0.9 0 0 1 42.35 3.00V12.80A0.9 0.9 0 0 1 41.45 13.70H2.55A0.9 0.9 0 0 1 1.65 12.80V3.00A0.9 0.9 0 0 1 2.55 2.10Z" fill="#f2f2f2" stroke="#d6d6d6" stroke-width="0.9"/></svg><span class="t" id="t74" style="left:81px;top:406px;font-size:6.3px;font-weight:400;color:#383838;transform:translate(0.00px,0.35px) scaleX(0.8520) rotate(.02deg);-webkit-text-stroke:.07px #383838;">Personal Data</span>
<svg class="b" style="left:148px;top:403px" width="58" height="24"><path d="M2.95 1.80H55.65A0.9 0.9 0 0 1 56.55 2.70V21.30A0.9 0.9 0 0 1 55.65 22.20H2.95A0.9 0.9 0 0 1 2.05 21.30V2.70A0.9 0.9 0 0 1 2.95 1.80Z" fill="#f2f2f2" stroke="#d6d6d6" stroke-width="0.9"/></svg><span class="t" id="t75" style="left:153px;top:406px;font-size:6.3px;font-weight:400;color:#383838;transform:translate(0.40px,0.15px) scaleX(0.8551) rotate(.02deg);-webkit-text-stroke:.07px #383838;">Sensitive Personal</span><span class="t" id="t76" style="left:153px;top:414px;font-size:6.3px;font-weight:400;color:#383838;transform:translate(0.40px,0.80px) scaleX(0.8600) rotate(.02deg);-webkit-text-stroke:.07px #383838;">Data</span>
<svg class="b" style="left:245px;top:407px" width="11" height="11"><g transform="translate(0.00 0.35)"><circle cx="4.6" cy="4.6" r="4.6" fill="#1d881f"/><path d="M2.3 4.8L3.9 6.4L6.9 3.1" stroke="#fff" stroke-width="1.35" fill="none"/></g></svg>
<svg class="b" style="left:317px;top:407px" width="11" height="11"><g transform="translate(0.05 0.35)"><circle cx="4.6" cy="4.6" r="4.6" fill="#1d881f"/><path d="M2.3 4.8L3.9 6.4L6.9 3.1" stroke="#fff" stroke-width="1.35" fill="none"/></g></svg>
<svg class="b" style="left:388px;top:407px" width="12" height="11"><g transform="translate(0.90 0.35)"><circle cx="4.6" cy="4.6" r="4.6" fill="#1d881f"/><path d="M2.3 4.8L3.9 6.4L6.9 3.1" stroke="#fff" stroke-width="1.35" fill="none"/></g></svg>
<svg class="b" style="left:461px;top:407px" width="11" height="11"><g transform="translate(0.30 0.35)"><circle cx="4.6" cy="4.6" r="4.6" fill="#1d881f"/><path d="M2.3 4.8L3.9 6.4L6.9 3.1" stroke="#fff" stroke-width="1.35" fill="none"/></g></svg>
<svg class="b" style="left:533px;top:407px" width="11" height="11"><g transform="translate(0.65 0.35)"><circle cx="4.6" cy="4.6" r="4.6" fill="#1d881f"/><path d="M2.3 4.8L3.9 6.4L6.9 3.1" stroke="#fff" stroke-width="1.35" fill="none"/></g></svg>
<svg class="b" style="left:606px;top:407px" width="10" height="11"><g transform="translate(0.25 0.85)"><circle cx="4.1" cy="4.1" r="4.05" fill="#c6262e"/><path d="M2.5 2.5L5.7 5.7M5.7 2.5L2.5 5.7" stroke="#fff" stroke-width="1.05" fill="none"/></g></svg>
<svg class="b" style="left:677px;top:407px" width="11" height="11"><g transform="translate(0.35 0.35)"><circle cx="4.6" cy="4.6" r="4.6" fill="#1d881f"/><path d="M2.3 4.8L3.9 6.4L6.9 3.1" stroke="#fff" stroke-width="1.35" fill="none"/></g></svg>
<svg class="b" style="left:726px;top:409px" width="4" height="3"><rect x="1.00" y="1.05" width="1.30" height="0.70" fill="#aaa"/></svg>
<span class="t" id="t77" style="left:16px;top:442px;font-size:6.2px;font-weight:700;color:#333;transform:translate(0.20px,0.70px) scaleX(0.8450) rotate(.02deg);">Canada</span>
<svg class="b" style="left:76px;top:441px" width="58" height="25"><path d="M2.55 2.35H55.25A0.9 0.9 0 0 1 56.15 3.25V21.85A0.9 0.9 0 0 1 55.25 22.75H2.55A0.9 0.9 0 0 1 1.65 21.85V3.25A0.9 0.9 0 0 1 2.55 2.35Z" fill="#e3f8f4" stroke="#7fcdbb" stroke-width="0.9"/></svg><span class="t" id="t78" style="left:81px;top:444px;font-size:6.3px;font-weight:400;color:#383838;transform:translate(0.00px,0.70px) scaleX(0.8488) rotate(.02deg);-webkit-text-stroke:.07px #383838;">Personal</span><span class="t" id="t79" style="left:81px;top:453px;font-size:6.3px;font-weight:400;color:#383838;transform:translate(0.00px,0.35px) scaleX(0.9302) rotate(.02deg);-webkit-text-stroke:.07px #383838;">Information</span>
<svg class="b" style="left:148px;top:441px" width="58" height="25"><path d="M2.95 2.35H55.65A0.9 0.9 0 0 1 56.55 3.25V21.85A0.9 0.9 0 0 1 55.65 22.75H2.95A0.9 0.9 0 0 1 2.05 21.85V3.25A0.9 0.9 0 0 1 2.95 2.35Z" fill="#f2f2f2" stroke="#d6d6d6" stroke-width="0.9"/></svg><span class="t" id="t80" style="left:153px;top:444px;font-size:6.3px;font-weight:400;color:#383838;transform:translate(0.40px,0.70px) scaleX(0.8685) rotate(.02deg);-webkit-text-stroke:.07px #383838;">Sensitive</span><span class="t" id="t81" style="left:153px;top:453px;font-size:6.3px;font-weight:400;color:#383838;transform:translate(0.40px,0.35px) scaleX(0.9302) rotate(.02deg);-webkit-text-stroke:.07px #383838;">Information</span>
<svg class="b" style="left:245px;top:445px" width="11" height="12"><g transform="translate(0.00 0.90)"><circle cx="4.6" cy="4.6" r="4.6" fill="#1d881f"/><path d="M2.3 4.8L3.9 6.4L6.9 3.1" stroke="#fff" stroke-width="1.35" fill="none"/></g></svg>
<svg class="b" style="left:317px;top:445px" width="11" height="12"><g transform="translate(0.05 0.90)"><circle cx="4.6" cy="4.6" r="4.6" fill="#1d881f"/><path d="M2.3 4.8L3.9 6.4L6.9 3.1" stroke="#fff" stroke-width="1.35" fill="none"/></g></svg>
<svg class="b" style="left:388px;top:445px" width="12" height="12"><g transform="translate(0.90 0.90)"><circle cx="4.6" cy="4.6" r="4.6" fill="#1d881f"/><path d="M2.3 4.8L3.9 6.4L6.9 3.1" stroke="#fff" stroke-width="1.35" fill="none"/></g></svg>
<svg class="b" style="left:461px;top:445px" width="11" height="12"><g transform="translate(0.30 0.90)"><circle cx="4.6" cy="4.6" r="4.6" fill="#1d881f"/><path d="M2.3 4.8L3.9 6.4L6.9 3.1" stroke="#fff" stroke-width="1.35" fill="none"/></g></svg>
<svg class="b" style="left:533px;top:445px" width="11" height="12"><g transform="translate(0.65 0.90)"><circle cx="4.6" cy="4.6" r="4.6" fill="#1d881f"/><path d="M2.3 4.8L3.9 6.4L6.9 3.1" stroke="#fff" stroke-width="1.35" fill="none"/></g></svg>
<svg class="b" style="left:605px;top:445px" width="11" height="12"><g transform="translate(0.75 0.90)"><circle cx="4.6" cy="4.6" r="4.6" fill="#1d881f"/><path d="M2.3 4.8L3.9 6.4L6.9 3.1" stroke="#fff" stroke-width="1.35" fill="none"/></g></svg>
<svg class="b" style="left:677px;top:445px" width="11" height="12"><g transform="translate(0.35 0.90)"><circle cx="4.6" cy="4.6" r="4.6" fill="#1d881f"/><path d="M2.3 4.8L3.9 6.4L6.9 3.1" stroke="#fff" stroke-width="1.35" fill="none"/></g></svg>
<svg class="b" style="left:748px;top:445px" width="12" height="12"><g transform="translate(0.95 0.90)"><circle cx="4.6" cy="4.6" r="4.6" fill="#1d881f"/><path d="M2.3 4.8L3.9 6.4L6.9 3.1" stroke="#fff" stroke-width="1.35" fill="none"/></g></svg>
<div class="b" style="left:120.40px;top:426.00px;width:556.60px;height:20.00px;background:#fff;border-radius:2px 2px 0 0;box-shadow:0 0 3px rgba(0,0,0,.22);"></div>
<svg class="b" style="left:119px;top:425px" width="559" height="23"><path d="M3.20 1.00H556.00A2 2 0 0 1 558.00 3.00V22.00A0 0 0 0 1 558.00 22.00H1.20A0 0 0 0 1 1.20 22.00V3.00A2 2 0 0 1 3.20 1.00Z" fill="#fff"/></svg>
<svg class="b" style="left:119px;top:425px" width="559" height="6"><path d="M3.20 1.00H556.00A2 2 0 0 1 558.00 3.00V4.70A0 0 0 0 1 558.00 4.70H1.20A0 0 0 0 1 1.20 4.70V3.00A2 2 0 0 1 3.20 1.00Z" fill="#0a69c5"/></svg>
<svg class="b" style="left:119px;top:443px" width="559" height="3"><rect x="1.00" y="1.00" width="557.00" height="1.00" fill="#e8e8e8"/></svg>
<svg class="b" style="left:380px;top:435px" width="7" height="6"><g transform="translate(0.50 0.60)"><path d="M0.5 2.9L2.6 0.8L4.7 2.9" stroke="#1d5b96" stroke-width="1.25" fill="none"/></g></svg>
<span class="t" id="t82" style="left:388px;top:433px;font-size:6.3px;font-weight:700;color:#1d5b96;transform:translate(0.80px,0.60px) scaleX(0.9421) rotate(.02deg);">Customize</span>
</body></html>
